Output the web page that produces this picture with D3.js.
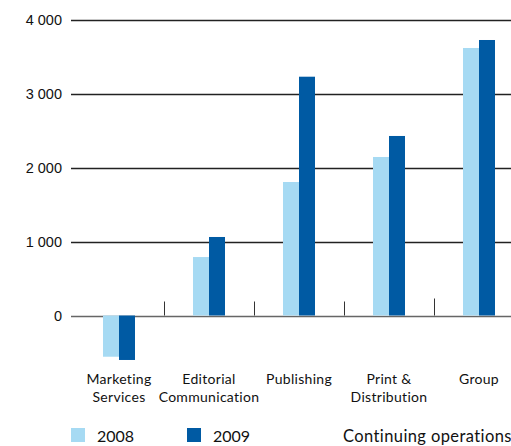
<!DOCTYPE html>
<html>
<head>
<meta charset="utf-8">
<script src="https://cdn.jsdelivr.net/npm/d3@7"></script>
<style>
  html, body { margin: 0; padding: 0; background: #fff; }
  svg { display: block; font-family: Lato, "Noto Sans", sans-serif; }
</style>
</head>
<body>
<svg id="chart" width="511" height="446"></svg>
<script>
// Operating result by segment, continuing operations
const categories = [["Marketing", "Services"], ["Editorial", "Communication"], ["Publishing"], ["Print &", "Distribution"], ["Group"]];
const years = ["2008", "2009"];
const values2008 = [-557, 790, 1804, 2142, 3615];
const values2009 = [-601, 1061, 3227, 2426, 3723];
const yTicks = [0, 1000, 2000, 3000, 4000];
const footnote = "Continuing operations";

const colors = ["#a6daf3", "#005aa3"];
const W = 511;

const svg = d3.select("#chart");

const y = d3.scaleLinear().domain([0, 4000]).range([315.5, 19.5]);
const x0 = d3.scaleBand().domain(d3.range(categories.length)).range([74, 524]).paddingInner(0).paddingOuter(0);
const x1 = d3.scaleBand().domain(years).range([x0.bandwidth() / 2 - 16, x0.bandwidth() / 2 + 16]);

const fmt = d3.formatLocale({ decimal: ".", thousands: " ", grouping: [3], currency: ["", ""] }).format(",");

// Horizontal gridlines with labels
const yAxis = d3.axisLeft(y).tickValues(yTicks).tickSize(0).tickPadding(0).tickFormat(fmt);
const gy = svg.append("g").attr("transform", "translate(62,0)").call(yAxis);
gy.select(".domain").remove();
gy.selectAll("text").attr("font-size", 14.5).attr("fill", "#111").attr("dy", "0.35em").attr("x", 0);

svg.append("g").selectAll("line").data(yTicks).join("line")
  .attr("x1", 71).attr("x2", W)
  .attr("y1", d => Math.round(y(d)) + 0.5).attr("y2", d => Math.round(y(d)) + 0.5)
  .attr("stroke", d => d === 0 ? "#666" : "#222")
  .attr("stroke-width", d => d === 0 ? 1.6 : 1.3);

// Separators between categories
svg.append("g").selectAll("line").data(d3.range(1, categories.length)).join("line")
  .attr("x1", i => x0(i) + 0.5).attr("x2", i => x0(i) + 0.5)
  .attr("y1", y(0)).attr("y2", i => y(0) - (i === 4 ? 17 : 14))
  .attr("stroke", "#333").attr("stroke-width", 1);

// Bars
const rows = categories.map((c, i) => ({ i, vals: [values2008[i], values2009[i]] }));
const groups = svg.append("g").selectAll("g").data(rows).join("g")
  .attr("transform", d => `translate(${x0(d.i)},0)`);
groups.selectAll("rect").data(d => d.vals.map((v, k) => ({ v, k }))).join("rect")
  .attr("x", d => x1(years[d.k]))
  .attr("width", x1.bandwidth())
  .attr("y", d => y(Math.max(0, d.v)))
  .attr("height", d => Math.abs(y(d.v) - y(0)))
  .attr("fill", d => colors[d.k]);

// Category labels
const lab = svg.append("g").selectAll("text").data(categories).join("text")
  .attr("text-anchor", "middle")
  .attr("font-size", 14)
  .attr("letter-spacing", 0.3)
  .attr("fill", "#111")
  .attr("x", (d, i) => x0(i) + x0.bandwidth() / 2)
  .attr("y", 384);
lab.selectAll("tspan").data(d => d).join("tspan")
  .attr("x", function () { return d3.select(this.parentNode).attr("x"); })
  .attr("dy", (d, k) => k === 0 ? 0 : 17.5)
  .text(d => d);

// Legend
const legendX = [71, 187];
const leg = svg.append("g").selectAll("g").data(years).join("g")
  .attr("transform", (d, k) => `translate(${legendX[k]},428)`);
leg.append("rect").attr("width", 14).attr("height", 14).attr("fill", (d, k) => colors[k]);
leg.append("text").attr("x", 26).attr("y", 13.5).attr("font-size", 16).attr("fill", "#111").text(d => d);

svg.append("text").attr("x", 343).attr("y", 441.5).attr("font-size", 16.5).attr("letter-spacing", 0.4)
  .attr("fill", "#111").text(footnote);
</script>
</body>
</html>
